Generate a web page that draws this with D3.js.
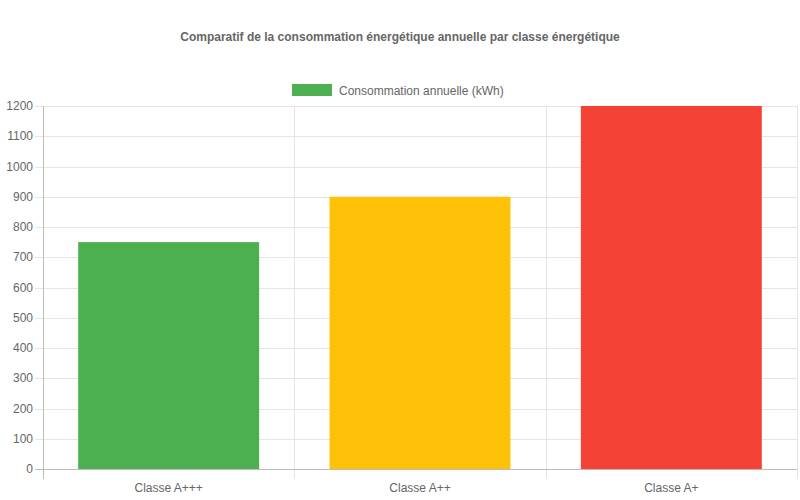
<!DOCTYPE html>
<html>
<head>
<meta charset="utf-8">
<script src="https://cdn.jsdelivr.net/npm/d3@7"></script>
<style>
  body { margin: 0; background: #fff; }
  text { font-family: "Liberation Sans", Arial, sans-serif; fill: #666; }
</style>
</head>
<body>
<script>
// data
var categories = ['Classe A+++', 'Classe A++', 'Classe A+'];
var values = [750, 900, 1200];
var barColors = ['#4CAF50', '#FFC107', '#F44336'];
var yTicks = [0, 100, 200, 300, 400, 500, 600, 700, 800, 900, 1000, 1100, 1200];
var seriesName = 'Consommation annuelle (kWh)';
var title = 'Comparatif de la consommation énergétique annuelle par classe énergétique';

var dimensions = { width: 800, height: 500 };
var plot = { left: 43, right: 797, top: 106, bottom: 469 };

var svg = d3.select('body').append('svg')
  .attr('width', dimensions.width).attr('height', dimensions.height);

var x = d3.scaleBand().domain(categories).range([plot.left, plot.right]).paddingInner(0).paddingOuter(0);
var y = d3.scaleLinear().domain([0, 1200]).range([plot.bottom, plot.top]);

// title
svg.append('text')
  .attr('x', 400).attr('y', 41)
  .attr('text-anchor', 'middle')
  .style('font-size', '12px').style('font-weight', 'bold')
  .text(title);

// legend
var legend = svg.append('g');
legend.append('rect')
  .attr('x', 292.5).attr('y', 84.5).attr('width', 39).attr('height', 11)
  .attr('fill', barColors[0]).attr('stroke', barColors[0]);
legend.append('text')
  .attr('x', 339).attr('y', 94.5)
  .style('font-size', '12px')
  .text(seriesName);

// horizontal grid + y ticks
var grid = svg.append('g');
grid.selectAll('line.h').data(yTicks).enter().append('line')
  .attr('x1', 35).attr('x2', plot.right)
  .attr('y1', function(d) { return Math.round(y(d)) + 0.5; })
  .attr('y2', function(d) { return Math.round(y(d)) + 0.5; })
  .attr('stroke', function(d) { return d === 0 ? '#bbb' : '#e5e5e5'; })
  .attr('stroke-width', 1);

// vertical grid
var xEdges = [plot.left, plot.left + x.bandwidth(), plot.left + 2 * x.bandwidth(), plot.right];
grid.selectAll('line.v').data(xEdges).enter().append('line')
  .attr('x1', function(d) { return Math.round(d) + 0.5; })
  .attr('x2', function(d) { return Math.round(d) + 0.5; })
  .attr('y1', plot.top).attr('y2', 479)
  .attr('stroke', function(d, i) { return i === 0 ? '#bbb' : '#e5e5e5'; });

// y labels
svg.selectAll('text.ylab').data(yTicks).enter().append('text')
  .attr('x', 33).attr('y', function(d) { return y(d) + 4; })
  .attr('text-anchor', 'end')
  .style('font-size', '12px')
  .text(function(d) { return d; });

// bars
svg.selectAll('rect.bar').data(values).enter().append('rect')
  .attr('x', function(d, i) { return x(categories[i]) + x.bandwidth() * 0.14; })
  .attr('width', x.bandwidth() * 0.72)
  .attr('y', function(d) { return y(d); })
  .attr('height', function(d) { return y(0) - y(d); })
  .attr('fill', function(d, i) { return barColors[i]; });

// redraw zero line over bars
svg.append('line')
  .attr('x1', 35).attr('x2', plot.right)
  .attr('y1', Math.round(y(0)) + 0.5).attr('y2', Math.round(y(0)) + 0.5)
  .attr('stroke', '#bbb');

// x labels
svg.selectAll('text.xlab').data(categories).enter().append('text')
  .attr('x', function(d) { return x(d) + x.bandwidth() / 2; })
  .attr('y', 492)
  .attr('text-anchor', 'middle')
  .style('font-size', '12px')
  .text(function(d) { return d; });
</script>
</body>
</html>
